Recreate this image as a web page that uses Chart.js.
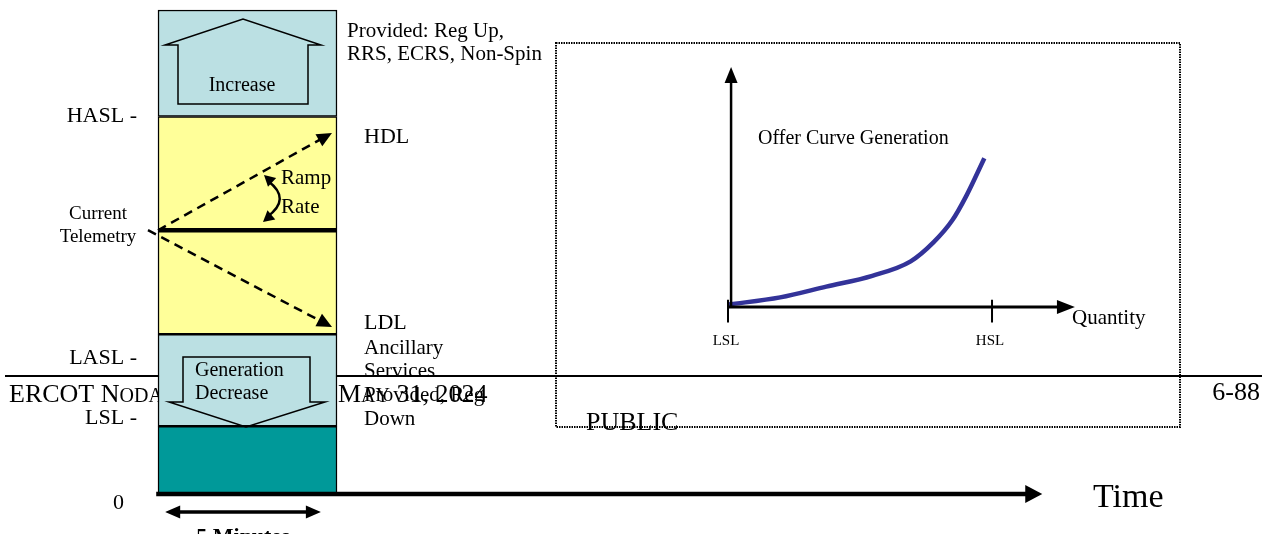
<!DOCTYPE html>
<html>
<head>
<meta charset="utf-8">
<script src="https://cdn.jsdelivr.net/npm/chart.js@4.4.0/dist/chart.umd.min.js"></script>
<style>
  html, body { margin: 0; padding: 0; background: #fff; }
  canvas { display: block; }
</style>
</head>
<body>
<canvas id="dispatchChart" width="1268" height="534"></canvas>
<script>
// unit output levels in MW: 0, LSL, LASL, HASL, top of unit
var bandEdges = [0, 14, 33, 78, 100];
var bandColors = ['#009999', '#BBE0E3', '#FFFF99', '#BBE0E3'];
var levelLabels = ['0', 'LSL -', 'LASL -', 'HASL -'];
var telemetryMW = 54.5;
var hdlMW = 74.6;
var ldlMW = 34.5;
var intervalMinutes = 5;
var timeAxisEnd = 24.7;

// offer curve inset: quantity (MW) vs price
var offerQty = [14, 31, 46, 61, 73.5, 81, 87, 91.5, 97.5];
var offerPrice = [1, 4, 8.5, 13, 19, 27, 36, 46, 62];
var quantityTicks = ['LSL', 'HSL'];
var quantityTickValues = [14, 100];
var priceAxisTop = 100;
var quantityAxisEnd = 127;

// layout (pixels)
var W = 1268, H = 534;
var ORIGIN_X = 158, ORIGIN_Y = 494, PX_PER_MIN = 35.8, PX_PER_MW = 4.84;
var INSET_X = 728, INSET_Y = 307, PX_PER_Q = 3.07, PX_PER_P = 2.4;
var SERIF = '"Liberation Serif", "DejaVu Serif", serif';

// ramp lines: start (min) and arrow tip (min)
var upStart = 0, downStart = -0.28, rampTip = 4.86, rampLineEnd = 4.6;

function txt(ctx, s, x, y, size, align, weight) {
    ctx.font = (weight || 'normal') + ' ' + size + 'px ' + SERIF;
    ctx.textAlign = align || 'left';
    ctx.textBaseline = 'middle';
    ctx.fillStyle = '#000';
    ctx.fillText(s, x, y);
}

function smallCaps(ctx, s, x, y, big, small) {
    ctx.textAlign = 'left';
    ctx.textBaseline = 'alphabetic';
    ctx.fillStyle = '#000';
    for (var i = 0; i < s.length; i++) {
        var c = s[i];
        var lower = c !== c.toUpperCase();
        ctx.font = (lower ? small : big) + 'px ' + SERIF;
        var ch = c.toUpperCase();
        ctx.fillText(ch, x, y);
        x += ctx.measureText(ch).width;
    }
}

function arrowHead(ctx, tx, ty, fx, fy, len, half) {
    var a = Math.atan2(ty - fy, tx - fx);
    ctx.beginPath();
    ctx.moveTo(tx, ty);
    ctx.lineTo(tx - len * Math.cos(a) + half * Math.sin(a), ty - len * Math.sin(a) - half * Math.cos(a));
    ctx.lineTo(tx - len * Math.cos(a) - half * Math.sin(a), ty - len * Math.sin(a) + half * Math.cos(a));
    ctx.closePath();
    ctx.fillStyle = '#000';
    ctx.fill();
}

function poly(ctx, pts) {
    ctx.beginPath();
    ctx.moveTo(pts[0][0], pts[0][1]);
    for (var i = 1; i < pts.length; i++) ctx.lineTo(pts[i][0], pts[i][1]);
    ctx.closePath();
    ctx.lineWidth = 1.5;
    ctx.strokeStyle = '#000';
    ctx.stroke();
}

function along(x0, y0, x1, y1, x) {
    return y0 + (y1 - y0) * (x - x0) / (x1 - x0);
}

var diagramPlugin = {
    id: 'diagram',
    beforeDatasetsDraw: function (chart) {
        var ctx = chart.ctx;
        ctx.save();
        // footer rule and text (partly hidden by the column)
        ctx.strokeStyle = '#000';
        ctx.lineWidth = 2;
        ctx.beginPath();
        ctx.moveTo(5, 376);
        ctx.lineTo(1262, 376);
        ctx.stroke();
        smallCaps(ctx, 'ERCOT Nodal Protocols \u2013 ', 9, 402, 26, 20);
        smallCaps(ctx, 'May 31, 2024', 338, 402, 26, 20);
        txt(ctx, '6-88', 1260, 393, 26, 'right');
        // dotted frame of the inset
        ctx.setLineDash([1.5, 1]);
        ctx.lineWidth = 2;
        ctx.strokeStyle = '#000';
        ctx.strokeRect(556, 43, 624, 384);
        ctx.setLineDash([]);
        txt(ctx, 'PUBLIC', 586, 423, 26);
        ctx.restore();
    },
    afterDatasetsDraw: function (chart) {
        var ctx = chart.ctx;
        var sx = chart.scales.x, sy = chart.scales.y;
        var qx = chart.scales.x2, py = chart.scales.y2;
        ctx.save();

        // ramp arrows to HDL / LDL
        var t0y = sy.getPixelForValue(telemetryMW);
        arrowHead(ctx, sx.getPixelForValue(rampTip), sy.getPixelForValue(hdlMW), sx.getPixelForValue(upStart), t0y, 15, 7);
        arrowHead(ctx, sx.getPixelForValue(rampTip), sy.getPixelForValue(ldlMW), sx.getPixelForValue(downStart), t0y, 15, 7);

        // time axis head
        arrowHead(ctx, sx.getPixelForValue(timeAxisEnd), sy.getPixelForValue(0),
            sx.getPixelForValue(0), sy.getPixelForValue(0), 17, 9);

        // 5 minute span
        var ax = sx.getPixelForValue(0.2), bx = sx.getPixelForValue(intervalMinutes - 0.45);
        ctx.strokeStyle = '#000';
        ctx.lineWidth = 3.5;
        ctx.beginPath();
        ctx.moveTo(ax + 8, 512);
        ctx.lineTo(bx - 8, 512);
        ctx.stroke();
        arrowHead(ctx, ax, 512, bx, 512, 15, 6.5);
        arrowHead(ctx, bx, 512, ax, 512, 15, 6.5);
        ctx.font = 'bold 22px ' + SERIF;
        ctx.textAlign = 'center';
        ctx.textBaseline = 'top';
        ctx.fillStyle = '#000';
        ctx.fillText(intervalMinutes + ' Minutes', 243, 526);

        // ramp rate curved arrow
        ctx.lineWidth = 2.5;
        ctx.beginPath();
        ctx.moveTo(268, 181);
        ctx.quadraticCurveTo(292, 199, 267, 217);
        ctx.stroke();
        arrowHead(ctx, 264, 175, 290, 199, 11, 6);
        arrowHead(ctx, 263, 222, 290, 199, 11, 6);

        // block arrows
        poly(ctx, [[178, 104], [178, 45], [165, 45], [243, 19], [321, 45], [308, 45], [308, 104]]);
        poly(ctx, [[183, 357], [310, 357], [310, 402], [325, 402], [246, 427], [169, 402], [183, 402]]);

        // inset axis heads
        arrowHead(ctx, qx.getPixelForValue(15), py.getPixelForValue(priceAxisTop),
            qx.getPixelForValue(15), py.getPixelForValue(0), 16, 6.5);
        arrowHead(ctx, qx.getPixelForValue(quantityAxisEnd), py.getPixelForValue(0),
            qx.getPixelForValue(14), py.getPixelForValue(0), 18, 7);

        // labels
        var levelY = [503, 418, 358, 116];
        levelLabels.forEach(function (l, i) {
            txt(ctx, l, i === 0 ? 124 : 137, levelY[i], 22, 'right');
        });
        txt(ctx, 'Current', 98, 214, 19, 'center');
        txt(ctx, 'Telemetry', 98, 237, 19, 'center');
        txt(ctx, 'Increase', 242, 86, 20, 'center');
        txt(ctx, 'Generation', 195, 371, 20);
        txt(ctx, 'Decrease', 195, 394, 20);
        txt(ctx, 'Ramp', 281, 178, 21);
        txt(ctx, 'Rate', 281, 207, 21);
        txt(ctx, 'Provided: Reg Up,', 347, 31, 21);
        txt(ctx, 'RRS, ECRS, Non-Spin', 347, 54, 21);
        txt(ctx, 'HDL', 364, 137, 22);
        txt(ctx, 'LDL', 364, 323, 22);
        txt(ctx, 'Ancillary', 364, 348, 21);
        txt(ctx, 'Services', 364, 371, 21);
        txt(ctx, 'Provided, Reg', 364, 395, 21);
        txt(ctx, 'Down', 364, 419, 21);
        txt(ctx, 'Time', 1093, 498, 34);
        txt(ctx, 'Offer Curve Generation', 758, 139, 20);
        txt(ctx, 'Quantity', 1072, 318, 21);
        quantityTicks.forEach(function (l, i) {
            txt(ctx, l, qx.getPixelForValue(quantityTickValues[i]) - 2, 341, 15, 'center');
        });
        ctx.restore();
    }
};

var bandData = [];
for (var i = 0; i < bandColors.length; i++) {
    bandData.push({ x: intervalMinutes / 2, y: [bandEdges[i], bandEdges[i + 1]] });
}

var offerData = offerQty.map(function (q, i) { return { x: q, y: offerPrice[i] }; });

var lineBase = { type: 'line', borderColor: '#000', pointRadius: 0, fill: false, order: 0 };

var datasets = [
    Object.assign({}, lineBase, {
        data: [{ x: 0, y: telemetryMW }, { x: intervalMinutes, y: telemetryMW }],
        borderWidth: 4.5
    }),
    Object.assign({}, lineBase, {
        data: [{ x: upStart, y: telemetryMW },
               { x: rampLineEnd, y: along(upStart, telemetryMW, rampTip, hdlMW, rampLineEnd) }],
        borderWidth: 2.5, borderDash: [9, 6]
    }),
    Object.assign({}, lineBase, {
        data: [{ x: downStart, y: telemetryMW },
               { x: rampLineEnd, y: along(downStart, telemetryMW, rampTip, ldlMW, rampLineEnd) }],
        borderWidth: 2.5, borderDash: [9, 6]
    }),
    Object.assign({}, lineBase, {
        data: [{ x: -0.05, y: 0 }, { x: timeAxisEnd - 0.4, y: 0 }],
        borderWidth: 4.5
    }),
    Object.assign({}, lineBase, {
        data: [{ x: 15, y: 0 }, { x: 15, y: priceAxisTop - 5 }],
        borderWidth: 2.5, xAxisID: 'x2', yAxisID: 'y2'
    }),
    Object.assign({}, lineBase, {
        data: [{ x: 14, y: 0 }, { x: quantityAxisEnd - 4, y: 0 }],
        borderWidth: 3, xAxisID: 'x2', yAxisID: 'y2'
    }),
    Object.assign({}, lineBase, {
        data: [{ x: 14, y: 3 }, { x: 14, y: -6.5 }, { x: NaN, y: NaN }, { x: 100, y: 3 }, { x: 100, y: -6.5 }],
        borderWidth: 2, spanGaps: false, xAxisID: 'x2', yAxisID: 'y2'
    }),
    Object.assign({}, lineBase, {
        data: offerData,
        borderColor: '#333399', borderWidth: 4.5,
        cubicInterpolationMode: 'monotone',
        xAxisID: 'x2', yAxisID: 'y2'
    }),
    {
        type: 'bar',
        data: bandData,
        backgroundColor: bandColors,
        borderColor: '#000',
        borderWidth: 1.5,
        borderSkipped: false,
        barThickness: intervalMinutes * PX_PER_MIN,
        grouped: false,
        order: 10
    }
];

new Chart(document.getElementById('dispatchChart').getContext('2d'), {
    type: 'bar',
    data: { datasets: datasets },
    options: {
        responsive: false,
        animation: false,
        events: [],
        layout: { padding: 0 },
        plugins: { legend: { display: false }, tooltip: { enabled: false } },
        scales: {
            x: { type: 'linear', display: false, offset: false,
                 min: -ORIGIN_X / PX_PER_MIN, max: (W - ORIGIN_X) / PX_PER_MIN },
            y: { type: 'linear', display: false,
                 min: -(H - ORIGIN_Y) / PX_PER_MW, max: ORIGIN_Y / PX_PER_MW },
            x2: { type: 'linear', display: false, offset: false,
                  min: 14 - INSET_X / PX_PER_Q, max: 14 + (W - INSET_X) / PX_PER_Q },
            y2: { type: 'linear', display: false,
                  min: -(H - INSET_Y) / PX_PER_P, max: INSET_Y / PX_PER_P }
        }
    },
    plugins: [diagramPlugin]
});
</script>
</body>
</html>
